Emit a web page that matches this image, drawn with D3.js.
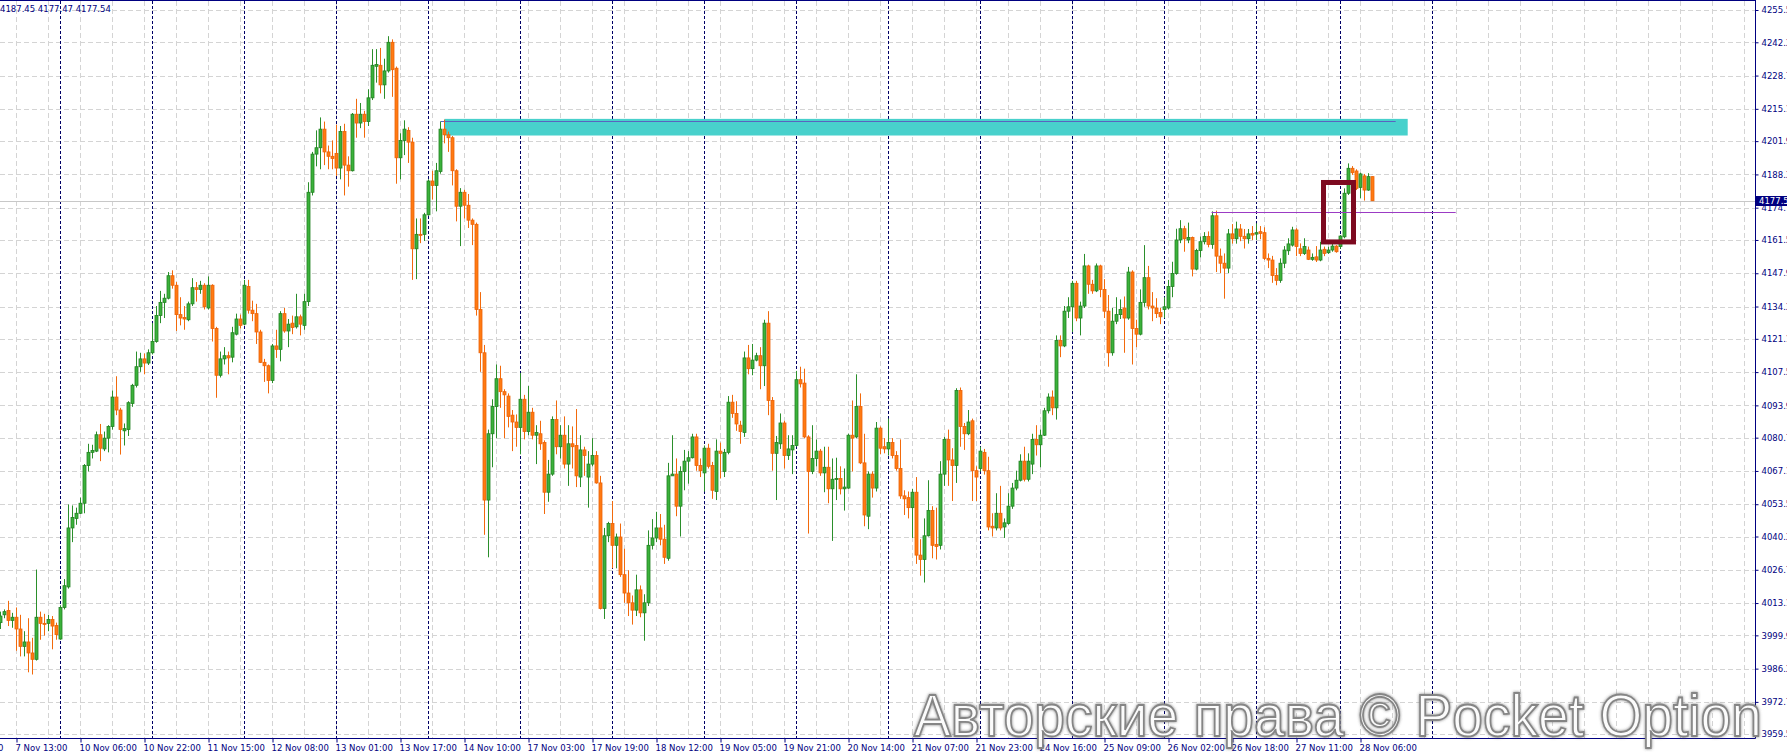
<!DOCTYPE html>
<html><head><meta charset="utf-8">
<script src="https://cdn.jsdelivr.net/npm/d3@7"></script>
<style>
html,body{margin:0;padding:0;background:#fff;overflow:hidden}
svg{display:block}
</style></head><body>
<svg id="c" width="1787" height="753"></svg>
<script>
// ---------------- DATA (US500, H1) ----------------
const openP = [4005.1,4008.3,4010.1,4006.0,4007.3,4002.5,3995.4,3997.2,3992.7,3990.1,4007.3,4004.8,4004.8,4006.4,4003.9,3998.4,4011.3,4019.7,4043.8,4047.7,
4049.8,4053.9,4069.3,4074.7,4075.2,4081.9,4076.1,4080.5,4085.3,4097.3,4092.0,4083.5,4084.0,4094.7,4102.1,4109.7,4112.9,4111.2,4115.4,4120.0,
4130.6,4136.0,4137.7,4146.9,4143.0,4131.0,4129.8,4128.9,4135.4,4142.0,4141.3,4143.0,4133.7,4143.0,4125.3,4106.2,4112.9,4114.2,4113.6,4123.0,
4129.2,4127.1,4142.5,4132.8,4131.4,4123.9,4111.5,4110.1,4104.1,4118.2,4116.8,4131.4,4124.3,4127.5,4126.0,4130.1,4126.6,4136.3,4181.0,4196.6,
4199.2,4206.8,4197.5,4195.7,4196.9,4190.9,4205.8,4192.1,4189.8,4212.9,4209.3,4212.9,4209.9,4219.6,4232.5,4232.9,4224.9,4230.6,4242.3,4231.7,
4195.1,4202.2,4206.3,4201.5,4157.9,4163.8,4163.8,4171.8,4185.6,4183.8,4189.5,4206.8,4204.5,4203.3,4189.8,4175.3,4181.0,4175.7,4169.6,4167.9,
4133.1,4115.4,4055.2,4082.3,4093.4,4104.8,4099.5,4097.7,4089.9,4087.1,4084.9,4096.4,4083.2,4091.1,4081.7,4082.3,4078.7,4058.4,4065.8,4088.1,
4077.0,4081.7,4069.9,4078.2,4077.5,4064.6,4075.7,4064.6,4069.9,4073.4,4062.2,4010.9,4040.6,4045.6,4036.7,4040.1,4024.7,4017.2,4013.2,4010.2,
4018.5,4009.1,4013.2,4036.7,4039.7,4043.8,4039.2,4031.4,4065.1,4065.8,4052.7,4066.9,4071.1,4072.5,4081.0,4069.3,4066.3,4076.4,4069.3,4058.7,
4075.2,4066.9,4074.7,4095.2,4090.6,4085.8,4082.8,4113.3,4108.9,4112.4,4114.2,4110.1,4127.5,4095.9,4074.3,4078.2,4086.7,4073.4,4075.7,4077.5,
4104.4,4103.0,4081.0,4066.9,4072.2,4075.2,4066.3,4068.6,4059.8,4063.7,4064.0,4059.8,4060.1,4081.7,4081.0,4093.4,4070.4,4048.6,4065.8,4060.1,
4084.6,4077.0,4076.1,4078.7,4073.4,4068.1,4056.9,4056.2,4052.1,4058.4,4032.7,4030.9,4040.6,4050.9,4037.1,4036.7,4065.8,4080.0,4071.6,4069.3,
4100.0,4085.3,4082.3,4087.6,4067.2,4068.1,4074.7,4067.2,4044.5,4043.8,4049.8,4044.2,4045.6,4052.7,4060.1,4063.3,4071.1,4063.7,4069.9,4080.0,
4077.8,4081.7,4091.7,4097.3,4092.9,4120.4,4118.2,4132.4,4134.2,4143.8,4129.6,4134.5,4150.9,4143.4,4140.7,4150.9,4141.3,4132.4,4115.4,4128.3,
4131.0,4133.7,4129.6,4148.4,4125.3,4123.0,4136.0,4146.1,4134.5,4133.7,4131.9,4133.1,4133.7,4142.5,4147.8,4161.5,4166.1,4161.5,4162.5,4149.6,
4157.2,4160.8,4162.9,4159.7,4171.4,4154.9,4152.0,4150.0,4164.0,4162.0,4166.0,4163.0,4162.0,4164.2,4163.9,4164.9,4164.5,4154.0,4153.3,4147.0,
4145.0,4152.0,4157.1,4159.4,4165.6,4157.9,4156.0,4157.4,4153.6,4154.6,4153.3,4157.7,4156.3,4157.4,4159.0,4158.8,4162.8,4180.6,4190.8,4189.7,
4183.0,4187.7,4181.9,4187.4];
const highP = [4009.6,4010.5,4014.0,4009.1,4011.3,4008.3,4001.6,4006.9,3998.9,4026.8,4009.6,4008.7,4008.3,4007.8,4005.1,4012.2,4022.9,4053.4,4053.0,4052.1,
4056.2,4069.9,4078.2,4077.8,4083.2,4086.3,4083.2,4085.8,4100.0,4105.8,4092.9,4086.5,4095.6,4102.7,4115.9,4115.4,4115.1,4116.8,4127.5,4134.5,
4140.7,4139.5,4148.4,4149.1,4144.3,4138.1,4134.5,4136.3,4145.9,4144.3,4144.8,4143.8,4146.6,4143.4,4126.0,4115.9,4117.7,4115.9,4126.0,4131.4,
4131.0,4145.2,4145.2,4136.7,4135.4,4124.8,4112.9,4110.6,4119.0,4124.8,4132.4,4133.7,4129.2,4130.6,4139.5,4131.0,4139.5,4185.1,4197.5,4206.3,
4211.6,4209.9,4200.1,4202.2,4208.6,4208.1,4209.0,4195.7,4213.4,4219.2,4217.5,4214.3,4223.1,4239.5,4239.5,4240.0,4235.6,4244.8,4243.5,4232.4,
4205.1,4210.4,4207.6,4203.3,4170.3,4170.3,4172.6,4186.3,4189.8,4193.0,4209.9,4210.7,4205.8,4204.0,4190.4,4182.7,4182.0,4180.3,4170.3,4168.6,
4140.2,4118.6,4084.0,4096.4,4110.6,4110.1,4100.5,4098.8,4092.0,4090.2,4107.1,4098.2,4101.8,4092.9,4085.8,4087.6,4079.6,4071.6,4089.4,4095.9,
4085.8,4089.4,4085.8,4085.3,4092.4,4081.7,4077.0,4075.2,4080.5,4075.2,4065.1,4043.8,4046.3,4054.8,4041.5,4045.6,4035.3,4026.5,4016.2,4024.7,
4020.3,4016.7,4042.8,4047.4,4050.4,4049.5,4045.1,4070.4,4081.7,4072.2,4069.0,4075.7,4075.2,4082.3,4082.3,4072.2,4077.5,4078.2,4070.8,4080.0,
4078.7,4076.1,4097.7,4098.2,4095.6,4087.6,4115.9,4118.6,4119.0,4115.4,4117.7,4128.9,4132.4,4097.3,4081.4,4090.6,4087.6,4081.7,4081.7,4108.0,
4109.7,4108.9,4081.7,4085.8,4080.0,4076.1,4077.0,4077.0,4072.2,4072.5,4069.0,4068.1,4082.3,4095.9,4106.6,4098.8,4082.3,4066.9,4066.9,4087.1,
4085.3,4080.5,4088.5,4080.5,4075.2,4080.0,4059.2,4058.7,4059.8,4064.6,4039.2,4047.7,4063.3,4052.7,4052.1,4071.1,4081.0,4084.0,4076.4,4100.9,
4101.2,4086.7,4092.0,4088.5,4069.0,4077.0,4076.1,4072.9,4049.8,4058.0,4061.0,4047.7,4058.0,4062.2,4067.2,4073.9,4077.0,4074.3,4082.3,4085.8,
4084.0,4092.9,4098.8,4100.0,4122.5,4122.5,4134.5,4138.1,4144.8,4144.8,4136.3,4155.8,4151.4,4145.2,4151.9,4151.4,4145.5,4139.0,4133.7,4138.1,
4137.2,4138.4,4150.5,4149.1,4128.9,4141.3,4159.4,4150.9,4140.2,4137.7,4133.7,4138.1,4145.2,4152.6,4166.1,4169.6,4167.3,4168.6,4162.9,4157.9,
4162.9,4164.7,4165.0,4173.2,4173.5,4158.0,4156.0,4166.0,4168.0,4169.0,4168.0,4166.0,4166.0,4167.2,4168.3,4167.2,4166.7,4156.0,4155.0,4150.0,
4154.0,4159.0,4162.2,4166.9,4166.3,4160.1,4162.2,4158.8,4156.0,4159.0,4160.8,4158.8,4158.8,4160.8,4159.4,4163.5,4182.6,4192.8,4191.7,4190.4,
4189.0,4188.5,4188.8,4187.45];
const lowP = [4002.5,4006.9,4003.7,4003.0,3993.6,3991.3,3991.3,3984.8,3983.9,3989.6,3998.1,3999.8,4001.6,3994.2,3998.1,3998.1,4010.5,4019.0,4038.0,4045.1,
4049.5,4049.8,4066.9,4072.2,4074.8,4071.1,4075.2,4074.7,4084.0,4089.9,4073.8,4077.5,4081.4,4093.3,4101.2,4107.6,4106.6,4110.4,4114.7,4119.5,
4127.5,4129.6,4137.2,4141.6,4124.3,4126.6,4124.8,4128.3,4134.5,4136.3,4139.5,4133.1,4133.1,4120.0,4097.0,4105.3,4110.6,4106.6,4111.5,4122.5,
4125.3,4126.6,4131.4,4128.3,4119.0,4111.2,4103.5,4098.8,4103.0,4113.3,4111.9,4123.6,4117.7,4123.0,4125.3,4122.5,4124.8,4134.5,4179.7,4191.6,
4190.4,4192.1,4190.4,4190.4,4187.7,4186.3,4179.7,4183.3,4189.5,4203.3,4207.2,4203.3,4208.1,4218.7,4225.8,4221.4,4219.2,4229.9,4220.0,4184.5,
4186.3,4196.2,4193.0,4145.2,4145.5,4160.2,4161.1,4171.4,4178.0,4173.2,4188.6,4201.0,4197.5,4183.8,4169.1,4159.0,4170.3,4166.4,4159.4,4130.6,
4107.6,4041.0,4031.8,4068.6,4080.5,4092.9,4080.5,4084.9,4075.2,4077.0,4073.9,4080.0,4081.7,4080.0,4069.9,4075.7,4049.5,4054.5,4065.1,4073.9,
4072.2,4068.1,4061.0,4068.1,4060.5,4060.5,4065.1,4052.1,4069.0,4061.9,4010.5,4006.6,4038.0,4027.3,4027.3,4023.8,4013.2,4007.8,4004.3,4007.8,
4007.3,3997.7,4011.9,4035.0,4038.0,4036.7,4029.1,4030.4,4065.1,4048.6,4040.3,4059.2,4061.9,4072.2,4067.2,4064.6,4058.7,4068.1,4055.7,4055.2,
4064.0,4064.6,4073.9,4088.8,4083.5,4078.2,4081.0,4106.6,4106.2,4111.9,4100.5,4101.8,4089.9,4067.2,4055.2,4076.1,4068.1,4071.6,4065.8,4077.0,
4101.2,4080.5,4041.5,4065.8,4069.0,4065.1,4058.4,4053.9,4038.5,4055.2,4057.5,4050.9,4059.8,4066.9,4080.5,4069.9,4044.5,4043.3,4056.2,4058.7,
4073.9,4074.3,4073.4,4072.2,4067.2,4055.7,4049.1,4047.7,4039.7,4029.1,4024.3,4021.5,4040.3,4031.4,4030.9,4035.0,4061.0,4061.0,4054.8,4062.2,
4077.0,4075.7,4081.7,4054.8,4054.8,4066.9,4065.6,4042.8,4040.3,4042.8,4042.8,4039.7,4045.1,4051.6,4059.2,4062.8,4062.8,4062.8,4065.8,4073.4,
4068.6,4081.4,4090.6,4089.9,4088.1,4113.6,4117.7,4129.6,4123.9,4128.3,4122.5,4133.7,4139.5,4139.5,4140.2,4138.1,4129.6,4109.7,4114.2,4127.1,
4129.2,4115.4,4128.9,4110.6,4117.7,4122.5,4134.2,4133.1,4128.3,4129.6,4127.1,4129.6,4133.1,4138.1,4147.3,4160.2,4156.7,4160.2,4146.6,4149.1,
4154.4,4159.7,4158.5,4157.9,4148.4,4148.0,4137.5,4148.0,4160.0,4160.0,4161.0,4158.0,4160.0,4161.5,4161.5,4161.8,4153.3,4150.0,4144.0,4143.0,
4144.0,4150.0,4155.4,4158.8,4154.9,4154.9,4155.4,4153.3,4153.0,4152.5,4152.8,4154.9,4155.8,4156.7,4156.3,4157.9,4162.2,4179.9,4188.1,4181.9,
4178.5,4177.6,4181.6,4177.47];
const closeP = [4007.8,4009.6,4006.0,4007.3,4002.5,3995.4,3997.2,3992.7,3990.1,4007.3,4004.8,4004.5,4006.4,4003.7,4000.2,4011.3,4020.2,4043.8,4048.1,4049.8,
4053.9,4069.3,4074.7,4075.5,4081.9,4076.4,4080.5,4085.3,4097.3,4092.0,4084.0,4084.4,4095.0,4102.1,4109.7,4112.9,4111.2,4115.4,4120.0,4130.6,
4136.0,4137.7,4146.9,4143.0,4131.0,4129.6,4129.2,4135.4,4142.0,4141.3,4143.0,4134.2,4143.0,4125.3,4106.2,4112.9,4114.2,4113.3,4123.6,4129.2,
4126.6,4143.0,4132.8,4131.4,4123.9,4111.5,4110.1,4104.1,4118.2,4116.8,4131.4,4124.3,4127.1,4125.7,4130.1,4127.1,4136.3,4181.0,4196.6,4199.2,
4206.8,4197.5,4195.7,4194.8,4190.9,4205.8,4192.1,4189.8,4212.9,4209.3,4212.9,4209.9,4219.6,4232.9,4233.2,4224.9,4230.6,4242.3,4231.1,4195.1,
4202.2,4206.8,4201.5,4157.9,4163.8,4163.4,4171.8,4185.6,4183.8,4189.8,4206.8,4204.5,4203.3,4189.8,4175.3,4181.0,4175.7,4169.6,4167.9,4133.1,
4115.4,4055.2,4082.3,4093.4,4104.8,4099.5,4098.2,4089.4,4087.1,4084.9,4096.4,4083.2,4091.1,4081.7,4082.8,4078.2,4058.4,4065.8,4088.1,4077.0,
4081.7,4069.9,4078.2,4077.0,4065.1,4075.7,4073.4,4069.9,4073.4,4062.2,4010.9,4040.6,4045.6,4036.7,4040.1,4024.7,4017.2,4013.2,4010.2,4018.5,
4009.1,4013.2,4036.7,4039.7,4043.8,4039.2,4031.8,4065.1,4065.8,4052.7,4066.9,4071.1,4072.5,4081.0,4069.3,4067.2,4076.4,4069.0,4059.2,4075.2,
4074.3,4074.7,4095.2,4090.6,4086.3,4083.2,4113.3,4108.9,4112.4,4114.2,4110.1,4127.5,4095.9,4074.3,4078.7,4086.7,4073.4,4076.1,4077.5,4104.4,
4102.7,4081.0,4066.9,4072.2,4075.2,4066.3,4068.6,4059.8,4063.7,4064.0,4059.8,4060.5,4081.7,4080.5,4093.4,4070.4,4049.1,4065.8,4060.1,4084.6,
4076.4,4076.1,4078.7,4073.4,4068.1,4056.9,4055.7,4052.1,4058.4,4032.7,4030.9,4040.6,4050.9,4036.7,4036.2,4065.8,4080.0,4071.6,4069.3,4100.0,
4085.3,4082.3,4087.1,4067.2,4064.6,4075.2,4067.2,4044.2,4043.8,4049.8,4043.8,4045.9,4052.7,4060.1,4063.3,4071.1,4063.7,4071.1,4080.0,4077.8,
4081.7,4091.7,4097.3,4092.9,4120.4,4118.2,4132.4,4134.2,4143.8,4129.6,4134.5,4150.9,4143.4,4140.7,4150.9,4141.3,4132.4,4115.4,4128.3,4131.0,
4133.1,4129.6,4148.4,4125.3,4123.0,4136.0,4146.1,4134.5,4133.7,4131.4,4130.1,4134.2,4142.5,4147.8,4161.5,4166.1,4162.0,4162.5,4149.6,4157.2,
4160.8,4162.9,4159.7,4171.4,4154.9,4152.0,4150.0,4164.0,4162.0,4166.0,4163.0,4162.0,4164.0,4163.5,4164.5,4164.2,4154.0,4153.3,4147.0,4145.0,
4152.0,4157.4,4159.9,4165.6,4158.8,4156.0,4158.8,4153.6,4154.4,4153.3,4157.4,4156.0,4157.4,4159.0,4156.7,4163.1,4180.6,4190.8,4189.0,4182.6,
4188.5,4181.9,4187.4,4177.54];

const priceTickValues = [4255.5,4242.3,4228.7,4215.1,4201.9,4188.3,4174.7,4161.5,4147.9,4134.3,4121.1,4107.5,4093.9,4080.7,4067.1,4053.5,4040.3,4026.7,4013.1,3999.9,3986.3,3972.7,3959.5];
const priceTickLabels = ["4255.5","4242.3","4228.7","4215.1","4201.9","4188.3","4174.7","4161.5","4147.9","4134.3","4121.1","4107.5","4093.9","4080.7","4067.1","4053.5","4040.3","4026.7","4013.1","3999.9","3986.3","3972.7","3959.5"];
const timeTickBars = [-12,4,20,36,52,68,84,100,116,132,148,164,180,196,212,228,244,260,276,292,308,324,340];
const timeTickLabels = ["6 Nov 20:00","7 Nov 13:00","10 Nov 06:00","10 Nov 22:00","11 Nov 15:00","12 Nov 08:00","13 Nov 01:00","13 Nov 17:00","14 Nov 10:00","17 Nov 03:00","17 Nov 19:00","18 Nov 12:00","19 Nov 05:00","19 Nov 21:00","20 Nov 14:00","21 Nov 07:00","21 Nov 23:00","24 Nov 16:00","25 Nov 09:00","26 Nov 02:00","26 Nov 18:00","27 Nov 11:00","28 Nov 06:00"];
const daySeparatorBars = [15,38,61,84,107,130,153,176,199,222,245,268,291,314,335,358];
const lastPrice = 4177.54;
const lastPriceLabel = "4177.5";
const headerText = "4187.45 4177.47 4177.54";
const zoneBars = [111, 351.8];      // resistance zone (bar range)
const zonePrices = [4211.0, 4204.2];
const zoneLineBars = [110, 348.8];
const zoneLinePrice = 4210.1;
const levelBars = [302.75, 363.8];  // purple horizontal level
const levelPrice = 4172.8;
const boxBars = [330.75, 338.25];   // highlighted breakout box
const boxPrices = [4185.0, 4160.7];
const watermark = "Авторские права © Pocket Option";

// ---------------- LAYOUT ----------------
const W = 1787, H = 753, plotRight = 1755.5, plotBottom = 738.5;
const svg = d3.select("#c");
const x = d3.scaleLinear().domain([0, 343]).range([0.5, 1372.5]);
const y = d3.scaleLinear().domain([3959.5, 4255.5]).range([734.2, 10]);
const NAVY = "#000080";
const FONT = "'DejaVu Sans', Verdana, sans-serif";

svg.append("rect").attr("width", W).attr("height", H).attr("fill", "#fff");

// grid
const grid = svg.append("g");
grid.selectAll("line.h").data(priceTickValues).join("line")
  .attr("x1", 0).attr("x2", plotRight)
  .attr("y1", d => Math.round(y(d)) + 0.5).attr("y2", d => Math.round(y(d)) + 0.5)
  .attr("stroke", "#d4d4d4").attr("stroke-dasharray", "5,3");
const vBars = d3.range(4, 440, 8);
grid.selectAll("line.v").data(vBars).join("line")
  .attr("x1", d => x(d)).attr("x2", d => x(d))
  .attr("y1", 1).attr("y2", plotBottom)
  .attr("stroke", "#d4d4d4").attr("stroke-dasharray", "5,3");
grid.selectAll("line.s").data(daySeparatorBars).join("line")
  .attr("x1", d => x(d)).attr("x2", d => x(d))
  .attr("y1", 1).attr("y2", plotBottom)
  .attr("stroke", "#000066").attr("stroke-dasharray", "3,2");

// resistance zone
svg.append("rect")
  .attr("x", x(zoneBars[0])).attr("width", x(zoneBars[1]) - x(zoneBars[0]))
  .attr("y", y(zonePrices[0])).attr("height", y(zonePrices[1]) - y(zonePrices[0]))
  .attr("fill", "#48d1cc");
svg.append("line")
  .attr("x1", x(zoneLineBars[0])).attr("x2", x(zoneLineBars[1]))
  .attr("y1", Math.round(y(zoneLinePrice)) + 0.5).attr("y2", Math.round(y(zoneLinePrice)) + 0.5)
  .attr("stroke", "#5a64c0").attr("stroke-width", 1);

// bid line
svg.append("line").attr("x1", 0).attr("x2", plotRight)
  .attr("y1", Math.round(y(lastPrice)) + 0.5).attr("y2", Math.round(y(lastPrice)) + 0.5)
  .attr("stroke", "#c8c8c8");

// candles
const bars = openP.map((o, i) => ({i, o, h: highP[i], l: lowP[i], c: closeP[i]}));
const cg = svg.append("g");
const up = d => d.c >= d.o;
cg.selectAll("line.w").data(bars).join("line")
  .attr("x1", d => x(d.i)).attr("x2", d => x(d.i))
  .attr("y1", d => y(d.h)).attr("y2", d => y(d.l))
  .attr("stroke", d => up(d) ? "#2b8f2b" : "#f26a0c").attr("stroke-width", 1);
cg.selectAll("rect.b").data(bars).join("rect")
  .attr("x", d => x(d.i) - 1.5).attr("width", 3)
  .attr("y", d => y(Math.max(d.o, d.c)))
  .attr("height", d => Math.max(1, Math.abs(y(d.o) - y(d.c))))
  .attr("fill", d => up(d) ? "#3bb23b" : "#ff7a12")
  .attr("stroke", d => up(d) ? "#228022" : "#ec6208").attr("stroke-width", 0.8);

// purple level
svg.append("line")
  .attr("x1", x(levelBars[0])).attr("x2", x(levelBars[1]))
  .attr("y1", Math.round(y(levelPrice)) + 0.5).attr("y2", Math.round(y(levelPrice)) + 0.5)
  .attr("stroke", "#9b3bc4").attr("stroke-width", 1.2);

// highlight box
svg.append("rect")
  .attr("x", x(boxBars[0])).attr("width", x(boxBars[1]) - x(boxBars[0]))
  .attr("y", y(boxPrices[0])).attr("height", y(boxPrices[1]) - y(boxPrices[0]))
  .attr("fill", "none").attr("stroke", "#7d0a20").attr("stroke-width", 5);

// frame
svg.append("line").attr("x1", 0).attr("x2", plotRight).attr("y1", 0.5).attr("y2", 0.5).attr("stroke", NAVY);
svg.append("line").attr("x1", 0).attr("x2", plotRight).attr("y1", plotBottom).attr("y2", plotBottom).attr("stroke", NAVY);
svg.append("line").attr("x1", plotRight).attr("x2", plotRight).attr("y1", 0).attr("y2", plotBottom).attr("stroke", NAVY);

// right axis
const yAxis = d3.axisRight(y).tickValues(priceTickValues)
  .tickFormat((d, i) => priceTickLabels[i]).tickSize(3).tickPadding(3);
const ya = svg.append("g").attr("transform", `translate(${plotRight},0)`).call(yAxis);
ya.select(".domain").remove();
ya.selectAll("line").attr("stroke", NAVY);
ya.selectAll("text").attr("fill", NAVY).style("font", `8.5px ${FONT}`);

// bottom axis
const xAxis = d3.axisBottom(x).tickValues(timeTickBars)
  .tickFormat((d, i) => timeTickLabels[i]).tickSize(4).tickPadding(2);
const xa = svg.append("g").attr("transform", `translate(0,${plotBottom})`).call(xAxis);
xa.select(".domain").remove();
xa.selectAll("line").attr("stroke", NAVY);
xa.selectAll("text").attr("fill", NAVY).style("font", `8.5px ${FONT}`)
  .attr("text-anchor", "start").attr("x", -1.5).attr("dy", null).attr("y", 12.5);

// last price box
const lp = y(lastPrice);
svg.append("rect").attr("x", plotRight + 0.5).attr("y", Math.round(lp) - 5).attr("width", 40).attr("height", 10).attr("fill", NAVY);
svg.append("text").attr("x", plotRight + 3.5).attr("y", lp + 3.5).attr("fill", "#fff")
  .style("font", `8.5px ${FONT}`).text(lastPriceLabel);

// header text
svg.append("text").attr("x", 0).attr("y", 12).attr("fill", NAVY).style("font", `8.5px ${FONT}`).text(headerText);

// watermark
const defs = svg.append("defs");
const f = defs.append("filter").attr("id", "wm").attr("x", "-5%").attr("y", "-20%").attr("width", "110%").attr("height", "140%");
f.append("feGaussianBlur").attr("in", "SourceAlpha").attr("stdDeviation", 1.8).attr("result", "b");
f.append("feFlood").attr("flood-color", "#555").attr("flood-opacity", 0.75);
f.append("feComposite").attr("in2", "b").attr("operator", "in").attr("result", "s");
const m = f.append("feMerge");
m.append("feMergeNode").attr("in", "s");
m.append("feMergeNode").attr("in", "SourceGraphic");
svg.append("text").attr("x", 914).attr("y", 736)
  .attr("textLength", 848).attr("lengthAdjust", "spacingAndGlyphs")
  .style("font", "60px 'Liberation Sans', Arial, sans-serif")
  .attr("fill", "#fbfbfb").attr("stroke", "#858585").attr("stroke-width", 1.8)
  .attr("filter", "url(#wm)")
  .text(watermark);
</script>
</body></html>
